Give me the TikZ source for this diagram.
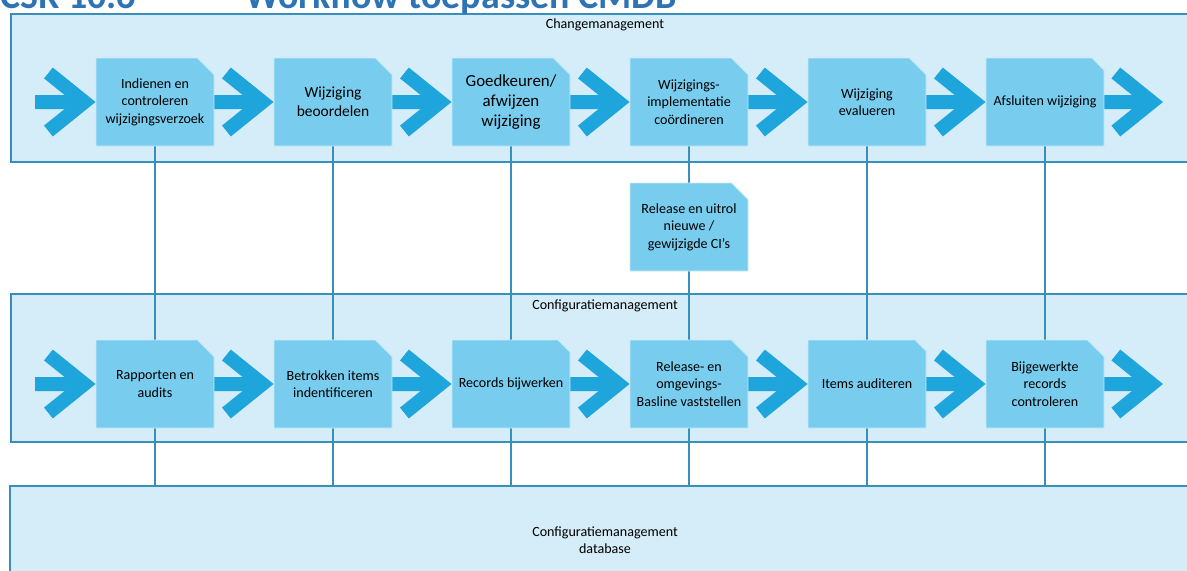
\documentclass[tikz,border=0pt]{standalone}
\usepackage{fontspec}
\setmainfont{Carlito}
\usetikzlibrary{positioning,shapes.misc,arrows.meta,backgrounds}

\definecolor{lanefill}{HTML}{D4EDF9}
\definecolor{laneline}{HTML}{3A8EBE}
\definecolor{boxfill}{HTML}{78CCEE}
\definecolor{flowblue}{HTML}{1EA5DB}
\definecolor{titleblue}{HTML}{2E74B5}

\tikzstyle{lane} = [rectangle, draw=laneline, line width=1.2pt, fill=lanefill, anchor=north west, inner sep=0pt]
\tikzstyle{lanelabel} = [font=\fontsize{10}{12}\selectfont, align=center]
\tikzstyle{stepbox} = [chamfered rectangle, chamfered rectangle corners=north east, chamfered rectangle xsep=0.3cm, minimum width=2.95cm, minimum height=2.2cm, inner xsep=-0.3cm, inner ysep=1pt, align=center, fill=boxfill, draw=white!60!boxfill, line width=0.6pt, font=\fontsize{10}{12.5}\selectfont]
\tikzstyle{arrow} = [line width=0.35cm, flowblue, -{Straight Barb[length=0.9cm, width=1.45cm]}]
\tikzstyle{link} = [laneline, line width=0.8pt]

\begin{document}
\begin{tikzpicture}[node distance=4.45cm]

	\useasboundingbox (0,0) rectangle (29.675,-14.25);
	\def \rowtop {-2.55}

	% title, cut off at the top
	\node (title) [anchor=base west, inner sep=0pt, text=titleblue, font=\fontsize{27}{32}\selectfont\bfseries] at (0,-0.2) {CSR 10.6};
	\node (subject) [anchor=base west, inner sep=0pt, text=titleblue, font=\fontsize{27}{32}\selectfont\bfseries] at (6.125,-0.2) {Workflow toepassen CMDB};

	% changemanagement
	\node (c1) [stepbox] at (3.875,\rowtop) {Indienen en\\controleren\\wijzigingsverzoek};
	\node (c2) [stepbox, right of=c1, font=\fontsize{11}{13.5}\selectfont] {Wijziging\\beoordelen};
	\node (c3) [stepbox, right of=c2, font=\fontsize{12}{14.5}\selectfont] {Goedkeuren/\\afwijzen\\wijziging};
	\node (c4) [stepbox, right of=c3] {Wijzigings-\\implementatie\\coördineren};
	\node (c5) [stepbox, right of=c4] {Wijziging\\evalueren};
	\node (c6) [stepbox, right of=c5] {Afsluiten wijziging};
	\node (rel) [stepbox, below of=c4, node distance=3.125cm] {Release en uitrol\\nieuwe /\\gewijzigde CI’s};

	% configuratiemanagement
	\node (m1) [stepbox, below of=c1, node distance=7.05cm] {Rapporten en\\audits};
	\node (m2) [stepbox, right of=m1] {Betrokken items\\indentificeren};
	\node (m3) [stepbox, right of=m2] {Records bijwerken};
	\node (m4) [stepbox, right of=m3] {Release- en\\omgevings-\\Basline vaststellen};
	\node (m5) [stepbox, right of=m4] {Items auditeren};
	\node (m6) [stepbox, right of=m5] {Bijgewerkte\\records\\controleren};

	\node (chglabel) [lanelabel] at (15.125,-0.625) {Changemanagement};
	\node (cfglabel) [lanelabel] at (15.125,-7.65) {Configuratiemanagement};
	\node (dblabel) [lanelabel] at (15.125,-13.5) {Configuratiemanagement\\database};

	\begin{scope}[on background layer]
		\node (chg) [lane, minimum width=31cm, minimum height=3.7cm] at (0.25,-0.325) {};
		\node (cfg) [lane, minimum width=31cm, minimum height=3.7cm] at (0.25,-7.325) {};
		\node (db) [lane, minimum width=31cm, minimum height=3cm] at (0.225,-12.125) {};
		\foreach \i in {1,...,6} {
			\draw [link] (c\i.south) -- (m\i.north);
			\draw [link] (m\i.south) -- (m\i.south |- db.north);
		}
	\end{scope}

	%arrow
	\coordinate (cin) at (0.875,\rowtop);
	\coordinate (cout) at (29.075,\rowtop);
	\coordinate (min) at (cin |- m1);
	\coordinate (mout) at (cout |- m1);
	\draw [arrow] (cin) -- (c1);
	\draw [arrow] (min) -- (m1);
	\foreach \i/\j in {1/2,2/3,3/4,4/5,5/6} {
		\draw [arrow] (c\i) -- (c\j);
		\draw [arrow] (m\i) -- (m\j);
	}
	\draw [arrow] (c6) -- (cout);
	\draw [arrow] (m6) -- (mout);

\end{tikzpicture}
\end{document}
